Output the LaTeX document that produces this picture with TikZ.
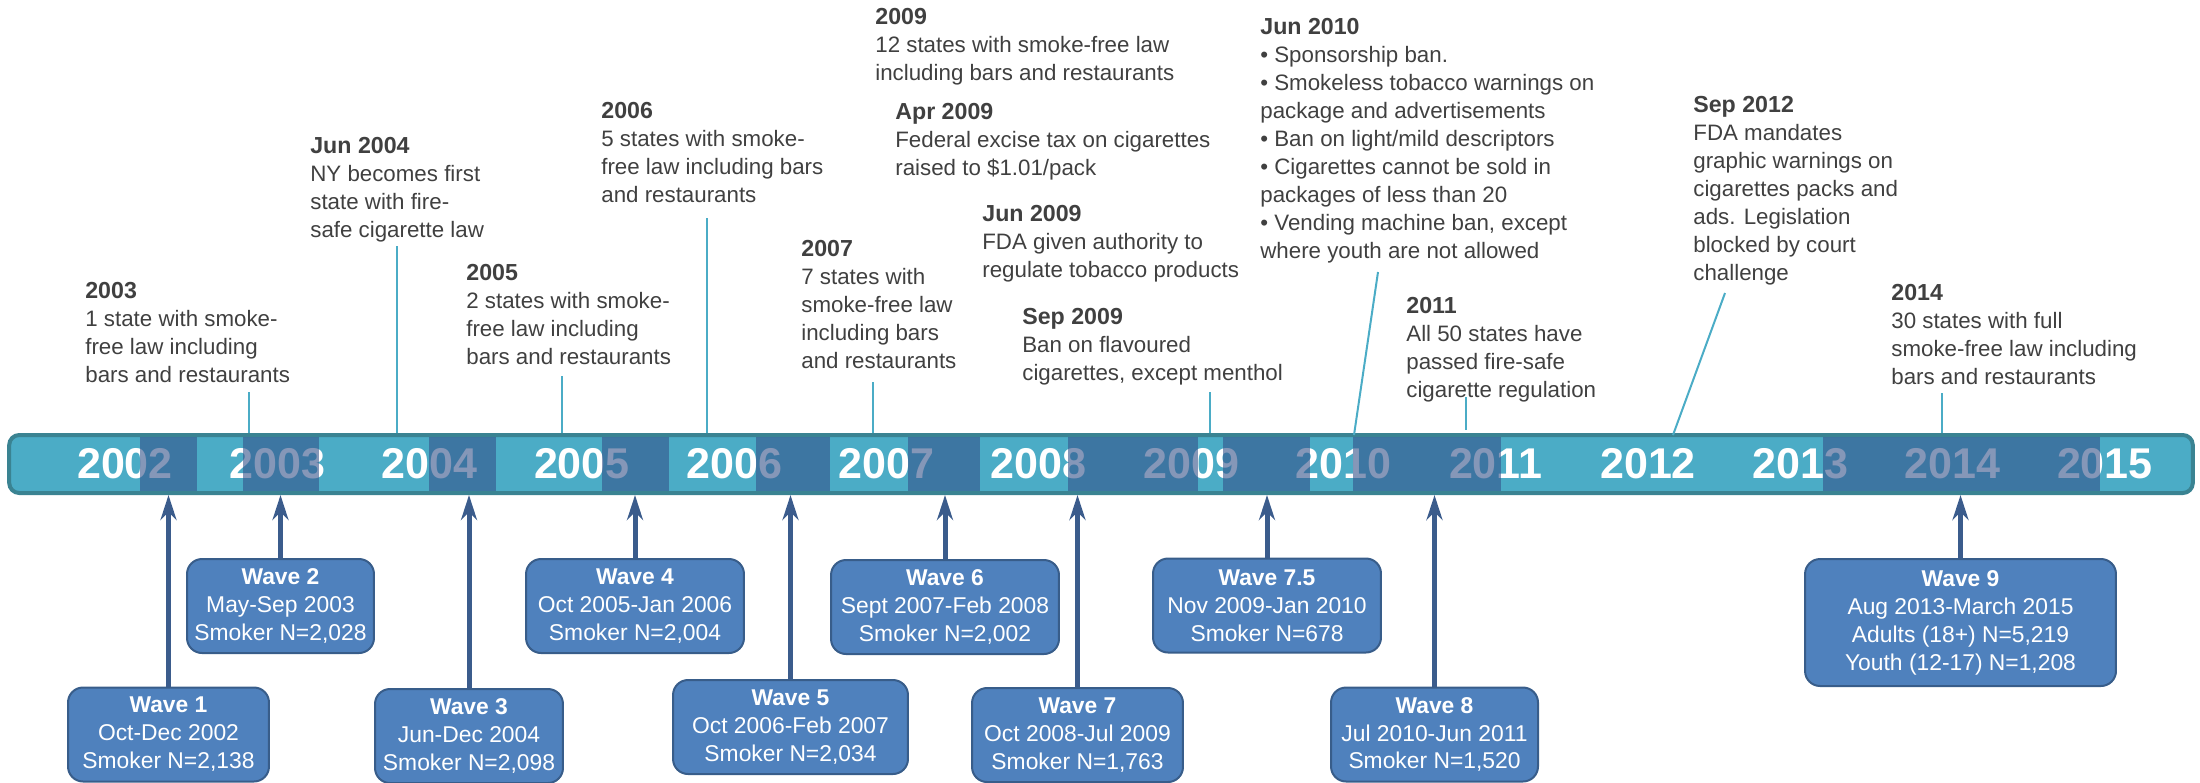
\documentclass[tikz,border=0pt]{standalone}
\usepackage{fontspec}
\setmainfont{Liberation Sans}
\usetikzlibrary{arrows.meta}
\definecolor{barfill}{RGB}{75,172,198}
\definecolor{bardraw}{RGB}{58,131,146}
\definecolor{ovl}{RGB}{53,82,138}
\definecolor{wavefill}{RGB}{79,129,189}
\definecolor{wavedraw}{RGB}{56,93,138}
\definecolor{arrcol}{RGB}{59,92,140}
\definecolor{txt}{RGB}{64,64,64}
\newcommand{\ttl}[1]{{\fontsize{13.2}{15.9}\selectfont\bfseries #1}}
\begin{document}
\begin{tikzpicture}[x=0.02cm,y=-0.02cm,
    bar/.style={draw=bardraw,fill=barfill,line width=0.08cm,rounded corners=0.2cm,minimum width=43.68cm,minimum height=1.16cm,inner sep=0},
    yr/.style={text=white,font=\fontsize{24.5}{28}\selectfont\bfseries,inner sep=0},
    evt/.style={anchor=north west,align=left,inner sep=0,text=txt,font=\fontsize{12.7}{15.9}\selectfont},
    callout/.style={draw=barfill,line width=0.04cm},
    wave/.style={draw=wavedraw,fill=wavefill,line width=0.04cm,rounded corners=0.3cm,text=white,align=center,font=\fontsize{13}{15.9}\selectfont,inner sep=2pt,minimum height=1.88cm},
    arr/.style={draw=arrcol,line width=0.1cm,-{Stealth[length=0.5cm,width=0.32cm,inset=0.16cm]}}]
    \useasboundingbox (0,0) rectangle (2200,782);

    \node[bar] (bar) at (1101,464) {};
    \foreach \yr [count=\i from 0] in {2002,...,2015}
        \node[yr] (y\yr) at ({125+152.3*\i},464) {\yr};
    \foreach \a/\b in {140/197,243/319,429/496,602/669,756/830,908/980,1068/1198,1223/1310,1353/1501,1823/2100}
        \fill[ovl,opacity=0.6] (\a,437) rectangle (\b,491);

    % events above the bar
    \node[evt] (e2003) at (85,282) {\ttl{2003}\\1 state with smoke-\\free law including\\bars and restaurants};
    \node[evt] (ejun04) at (310,137) {\ttl{Jun 2004}\\NY becomes first\\state with fire-\\safe cigarette law};
    \node[evt] (e2005) at (466,264) {\ttl{2005}\\2 states with smoke-\\free law including\\bars and restaurants};
    \node[evt] (e2006) at (601,102) {\ttl{2006}\\5 states with smoke-\\free law including bars\\and restaurants};
    \node[evt] (e2007) at (801,240) {\ttl{2007}\\7 states with\\smoke-free law\\including bars\\and restaurants};
    \node[evt] (e2009) at (875,8) {\ttl{2009}\\12 states with smoke-free law\\including bars and restaurants};
    \node[evt] (eapr09) at (895,103) {\ttl{Apr 2009}\\Federal excise tax on cigarettes\\raised to \$1.01/pack};
    \node[evt] (ejun09) at (982,205) {\ttl{Jun 2009}\\FDA given authority to\\regulate tobacco products};
    \node[evt] (esep09) at (1022,308) {\ttl{Sep 2009}\\Ban on flavoured\\cigarettes, except menthol};
    \node[evt] (ejun10) at (1260,18) {\ttl{Jun 2010}\\• Sponsorship ban.\\• Smokeless tobacco warnings on\\package and advertisements\\• Ban on light/mild descriptors\\• Cigarettes cannot be sold in\\packages of less than 20\\• Vending machine ban, except\\where youth are not allowed};
    \node[evt] (e2011) at (1406,297) {\ttl{2011}\\All 50 states have\\passed fire-safe\\cigarette regulation};
    \node[evt] (esep12) at (1693,96) {\ttl{Sep 2012}\\FDA mandates\\graphic warnings on\\cigarettes packs and\\ads. Legislation\\blocked by court\\challenge};
    \node[evt] (e2014) at (1891,284) {\ttl{2014}\\30 states with full\\smoke-free law including\\bars and restaurants};

    \coordinate (c2003) at (249,392);
    \coordinate (cjun04) at (397,246);
    \coordinate (c2005) at (562,376);
    \coordinate (c2006) at (707,218);
    \coordinate (c2007) at (873,382);
    \coordinate (csep09) at (1210,392);
    \coordinate (cjun10) at (1378,272);
    \coordinate (cjun10b) at (1354,435);
    \coordinate (c2011) at (1466,397);
    \coordinate (csep12) at (1725,293);
    \coordinate (csep12b) at (1673,435);
    \coordinate (c2014) at (1942,393);
    \foreach \c in {c2003,cjun04,c2005,c2006,c2007,csep09,c2014}
        \draw[callout] (\c) -- (\c |- bar.north);
    \draw[callout] (c2011) -- ++(0,33);
    \draw[callout] (cjun10) -- (cjun10b);
    \draw[callout] (csep12) -- (csep12b);

    % survey waves below the bar
    \node[wave,minimum width=4.02cm] (w1) at (168.5,734.5) {\textbf{Wave 1}\\Oct-Dec 2002\\Smoker N=2,138};
    \node[wave,minimum width=3.74cm] (w2) at (280.5,606) {\textbf{Wave 2}\\May-Sep 2003\\Smoker N=2,028};
    \node[wave,minimum width=3.76cm] (w3) at (469,736) {\textbf{Wave 3}\\Jun-Dec 2004\\Smoker N=2,098};
    \node[wave,minimum width=4.36cm] (w4) at (635,606) {\textbf{Wave 4}\\Oct 2005-Jan 2006\\Smoker N=2,004};
    \node[wave,minimum width=4.7cm] (w5) at (790.5,727) {\textbf{Wave 5}\\Oct 2006-Feb 2007\\Smoker N=2,034};
    \node[wave,minimum width=4.56cm] (w6) at (945,607) {\textbf{Wave 6}\\Sept 2007-Feb 2008\\Smoker N=2,002};
    \node[wave,minimum width=4.22cm] (w7) at (1077.5,735) {\textbf{Wave 7}\\Oct 2008-Jul 2009\\Smoker N=1,763};
    \node[wave,minimum width=4.56cm] (w75) at (1267,605.5) {\textbf{Wave 7.5}\\Nov 2009-Jan 2010\\Smoker N=678};
    \node[wave,minimum width=4.14cm] (w8) at (1434.5,734.5) {\textbf{Wave 8}\\Jul 2010-Jun 2011\\Smoker N=1,520};
    \node[wave,minimum width=6.22cm,minimum height=2.54cm] (w9) at (1960.5,622.5) {\textbf{Wave 9}\\Aug 2013-March 2015\\Adults (18+) N=5,219\\Youth (12-17) N=1,208};
    \foreach \w in {w1,w2,w3,w4,w5,w6,w7,w75,w8,w9}
        \draw[arr] (\w.north) -- (\w.north |- bar.south);
\end{tikzpicture}
\end{document}
